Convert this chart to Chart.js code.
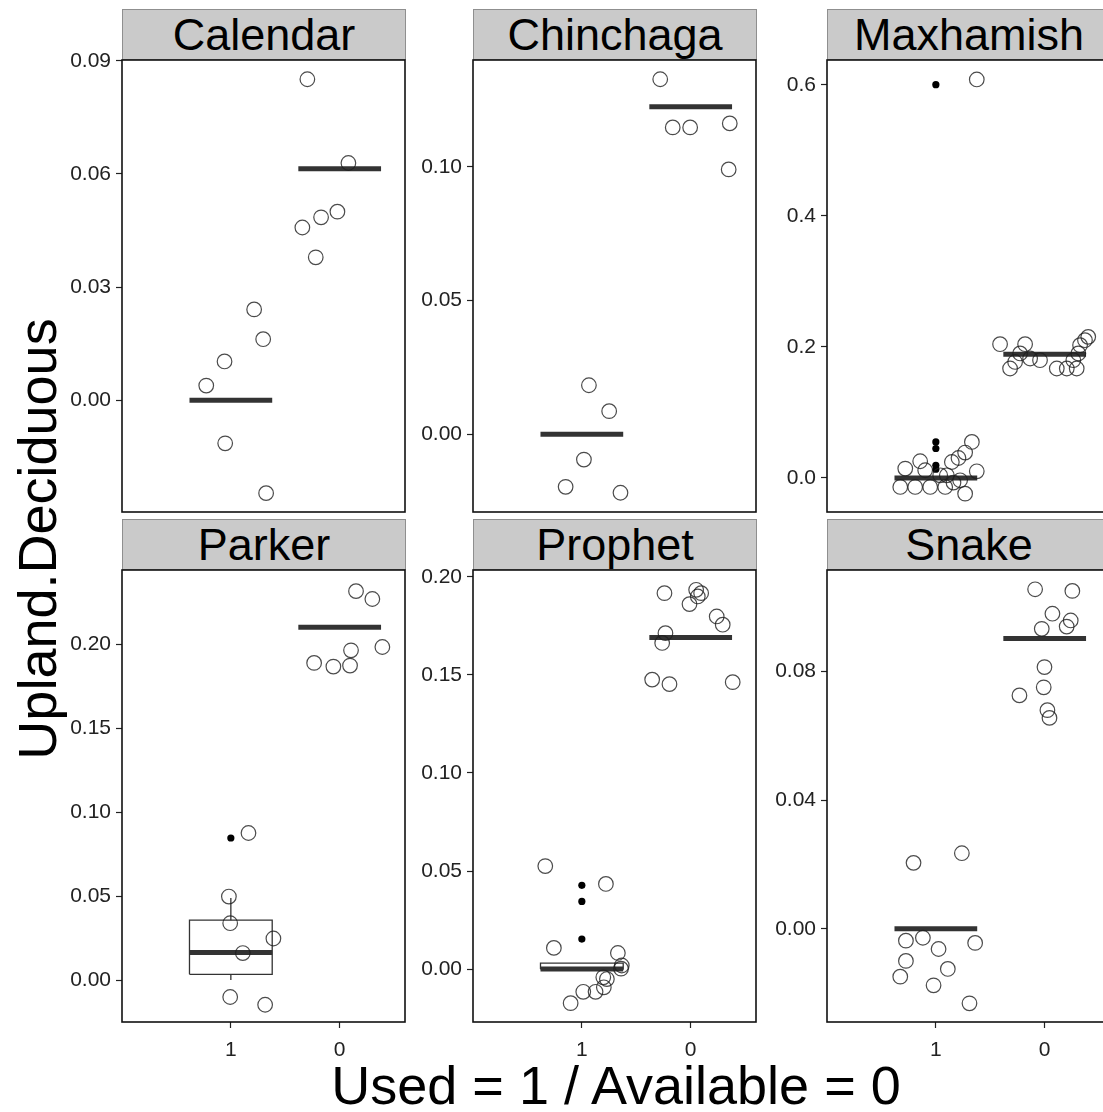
<!DOCTYPE html>
<html lang="en">
<head>
  <meta charset="UTF-8" />
  <title>Upland.Deciduous by herd</title>
  <script src="https://cdn.jsdelivr.net/npm/chart.js"></script>
  <style>
    html, body { margin: 0; padding: 0; background: #fff; overflow: hidden; }
    body { width: 1103px; height: 1112px; position: relative; font-family: "Liberation Sans", Arial, sans-serif; }
    canvas { position: absolute; }
    .strip {
      position: absolute; box-sizing: border-box; background: #cacaca; border: 1px solid #8f8f8f;
      font-size: 45px; line-height: 50px; text-align: center; color: #000;
    }
    .ytitle {
      position: absolute; font-size: 54px; line-height: 54px; white-space: nowrap; color: #000;
      transform: translate(-50%, -50%) rotate(-90deg); left: 37px; top: 539px;
    }
    .xtitle {
      position: absolute; font-size: 54px; line-height: 54px; white-space: nowrap; color: #000;
      left: 616px; top: 1058px; transform: translateX(-50%);
    }
  </style>
</head>
<body>

  <div class="ytitle">Upland.Deciduous</div>
  <div class="xtitle">Used = 1 / Available = 0</div>

  <script>
    // ---- data ----
    const facetNames = ["Calendar", "Chinchaga", "Maxhamish", "Parker", "Prophet", "Snake"];
    const groupLabels = ["1", "0"];

    // jittered observations (x = group position 1 or 2 plus jitter)
    const calendarX = [1.703, 2.080, 1.979, 1.829, 1.657, 1.780, 1.214, 1.297, 0.942, 0.774, 0.948, 1.324];
    const calendarY = [0.0851, 0.0629, 0.0500, 0.0485, 0.0458, 0.0379, 0.0241, 0.0162, 0.0103, 0.0039, -0.0114, -0.0246];

    const chinchagaX = [1.720, 1.835, 1.995, 2.359, 2.349, 1.065, 1.251, 1.019, 0.851, 1.355];
    const chinchagaY = [0.1327, 0.1147, 0.1147, 0.1162, 0.0990, 0.0183, 0.0086, -0.0095, -0.0197, -0.0219];

    const maxhamishX = [1.376, 0.673, 0.810, 0.948, 1.086, 1.162, 1.269, 0.719, 0.856, 0.902, 1.147, 1.208, 1.269, 1.331, 1.376, 1.101, 1.223, 1.040,
                        1.590, 1.820, 1.774, 1.728, 1.682, 1.866, 1.957, 2.111, 2.203, 2.294, 2.309, 2.325, 2.370, 2.400, 2.263];
    const maxhamishY = [0.608, -0.0137, -0.0137, -0.0137, -0.0137, -0.0071, -0.0239, 0.0143, 0.0255, 0.0118, 0.0244, 0.0305, 0.0388, 0.055, 0.0102, 0.0041, -0.0035, 0.0041,
                        0.2041, 0.2041, 0.190, 0.177, 0.167, 0.1823, 0.1797, 0.167, 0.167, 0.167, 0.190, 0.2026, 0.2102, 0.2153, 0.1797];

    const parkerX = [2.150, 2.300, 2.392, 2.104, 2.095, 1.942, 1.765, 1.162, 0.982, 0.994, 1.391, 1.110, 0.994, 1.315];
    const parkerY = [0.2319, 0.2272, 0.1986, 0.1966, 0.1875, 0.1869, 0.1891, 0.0877, 0.0498, 0.0339, 0.0248, 0.0161, -0.0101, -0.0147];

    const prophetX = [1.759, 2.050, 2.096, 2.065, 1.989, 2.239, 2.294, 1.768, 1.738, 1.646, 1.805, 2.386,
                      0.664, 1.221, 0.743, 1.331, 1.367, 1.360, 1.197, 1.230, 1.202, 1.126, 1.013, 0.897];
    const prophetY = [0.1917, 0.1934, 0.1917, 0.1900, 0.1861, 0.1798, 0.1756, 0.1713, 0.1663, 0.1476, 0.1453, 0.1463,
                      0.0525, 0.0434, 0.0108, 0.0082, 0.0018, 0.0002, -0.0042, -0.0051, -0.0093, -0.0116, -0.0116, -0.0174];

    const snakeX = [1.912, 2.254, 2.071, 2.239, 2.202, 1.973, 1.998, 1.991, 1.768, 2.025, 2.044,
                    0.795, 1.239, 0.725, 0.881, 1.025, 1.361, 0.725, 1.110, 0.673, 0.979, 1.309];
    const snakeY = [0.1056, 0.1051, 0.0980, 0.0959, 0.0940, 0.0933, 0.0814, 0.0751, 0.0726, 0.0680, 0.0656,
                    0.0205, 0.0235, -0.0037, -0.0028, -0.0063, -0.0044, -0.0100, -0.0125, -0.0149, -0.0176, -0.0232];

    // boxplot stats per group: [lower whisker, q1, median, q3, upper whisker]
    const calendarBox = [[0, 0, 0, 0, 0], [0.0614, 0.0614, 0.0614, 0.0614, 0.0614]];
    const chinchagaBox = [[0, 0, 0, 0, 0], [0.1224, 0.1224, 0.1224, 0.1224, 0.1224]];
    const maxhamishBox = [[0, 0, 0, 0, 0], [0.1889, 0.1889, 0.1889, 0.1889, 0.1889]];
    const parkerBox = [[0, 0.0034, 0.0165, 0.0357, 0.049], [0.2103, 0.2103, 0.2103, 0.2103, 0.2103]];
    const prophetBox = [[0, 0, 0, 0.003, 0.003], [0.1691, 0.1691, 0.1691, 0.1691, 0.1691]];
    const snakeBox = [[0, 0, 0, 0, 0], [0.0903, 0.0903, 0.0903, 0.0903, 0.0903]];

    // outliers (filled dots) per group
    const calendarOut = [[], []];
    const chinchagaOut = [[], []];
    const maxhamishOut = [[0.600, 0.055, 0.045, 0.0194, 0.0133], []];
    const parkerOut = [[0.0847], []];
    const prophetOut = [[0.0427, 0.0345, 0.0153], []];
    const snakeOut = [[], []];

    // y tick values
    const calendarTicks = [0, 0.03, 0.06, 0.09];
    const chinchagaTicks = [0, 0.05, 0.10];
    const maxhamishTicks = [0, 0.2, 0.4, 0.6];
    const parkerTicks = [0, 0.05, 0.10, 0.15, 0.20];
    const prophetTicks = [0, 0.05, 0.10, 0.15, 0.20];
    const snakeTicks = [0, 0.04, 0.08];

    // ---- layout ----
    const colLeft = [122, 473, 827];
    const rowTop = [60, 570];
    const PLOT_W = 283, PLOT_H = 452;
    const AXIS_W = 72, PAD = 2, PAD_TOP = 16, XAXIS_H = 46;
    const BOX_HALF = 0.38;
    const INK = "#333333";
    const TICK_FONT = { family: "Liberation Sans", size: 21 };

    const panels = [
      { x: calendarX, y: calendarY, box: calendarBox, out: calendarOut, ticks: calendarTicks, min: -0.0296, max: 0.0902, dec: 2 },
      { x: chinchagaX, y: chinchagaY, box: chinchagaBox, out: chinchagaOut, ticks: chinchagaTicks, min: -0.0291, max: 0.1399, dec: 2 },
      { x: maxhamishX, y: maxhamishY, box: maxhamishBox, out: maxhamishOut, ticks: maxhamishTicks, min: -0.0519, max: 0.6377, dec: 1 },
      { x: parkerX, y: parkerY, box: parkerBox, out: parkerOut, ticks: parkerTicks, min: -0.025, max: 0.2445, dec: 2 },
      { x: prophetX, y: prophetY, box: prophetBox, out: prophetOut, ticks: prophetTicks, min: -0.027, max: 0.2035, dec: 2 },
      { x: snakeX, y: snakeY, box: snakeBox, out: snakeOut, ticks: snakeTicks, min: -0.029, max: 0.1116, dec: 2 }
    ];

    const panelBorder = {
      id: "panelBorder",
      afterDatasetsDraw(chart) {
        const { ctx, chartArea: a } = chart;
        ctx.save();
        ctx.strokeStyle = "#111";
        ctx.lineWidth = 1.6;
        ctx.strokeRect(a.left, a.top, a.right - a.left, a.bottom - a.top);
        ctx.restore();
      }
    };

    // no extra room for overhanging tick labels: the plot box is fixed
    function noPad(s) {
      s.paddingLeft = 0; s.paddingRight = 0; s.paddingTop = 0; s.paddingBottom = 0;
    }

    function seg(points, width, order) {
      return {
        data: points, showLine: true, pointRadius: 0, borderColor: INK, borderWidth: width,
        borderCapStyle: "butt", fill: false, order: order, clip: false
      };
    }

    function buildDatasets(p) {
      const ds = [];
      // hollow jittered points on top
      ds.push({
        data: p.x.map((v, k) => ({ x: v, y: p.y[k] })),
        pointRadius: 7.3, pointBorderWidth: 1.2, pointBackgroundColor: "rgba(0,0,0,0)",
        pointBorderColor: "rgba(30,30,30,0.8)", showLine: false, order: 0, clip: false
      });
      p.box.forEach((b, g) => {
        const c = g + 1, l = c - BOX_HALF, r = c + BOX_HALF;
        const [lo, q1, med, q3, hi] = b;
        // outliers
        ds.push({
          data: p.out[g].map(v => ({ x: c, y: v })),
          pointRadius: 3.6, pointBackgroundColor: "#000", pointBorderColor: "#000", pointBorderWidth: 0,
          showLine: false, order: 1, clip: false
        });
        ds.push(seg([{ x: l, y: med }, { x: r, y: med }], 5, 2));
        if (hi > q3) ds.push(seg([{ x: c, y: q3 }, { x: c, y: hi }], 1.3, 3));
        if (lo < q1) ds.push(seg([{ x: c, y: lo }, { x: c, y: q1 }], 1.3, 3));
        if (q3 > q1) ds.push(seg([{ x: l, y: q1 }, { x: r, y: q1 }, { x: r, y: q3 }, { x: l, y: q3 }, { x: l, y: q1 }], 1.3, 4));
      });
      return ds;
    }

    panels.forEach((p, i) => {
      const col = i % 3, row = Math.floor(i / 3);
      const bottomRow = row === 1;
      const left = colLeft[col], top = rowTop[row];

      const strip = document.createElement("div");
      strip.className = "strip";
      strip.textContent = facetNames[i];
      Object.assign(strip.style, { left: left + "px", top: (top - 51) + "px", width: (PLOT_W + 1) + "px", height: "51px" });
      document.body.appendChild(strip);

      const cv = document.createElement("canvas");
      cv.width = AXIS_W + PLOT_W + PAD;
      cv.height = PAD_TOP + PLOT_H + (bottomRow ? XAXIS_H : PAD);
      Object.assign(cv.style, { left: (left - AXIS_W) + "px", top: (top - PAD_TOP) + "px" });
      document.body.appendChild(cv);

      new Chart(cv.getContext("2d"), {
        type: "scatter",
        data: { datasets: buildDatasets(p) },
        options: {
          responsive: false,
          animation: false,
          events: [],
          layout: { autoPadding: false, padding: { top: PAD_TOP, right: PAD, left: 0, bottom: bottomRow ? 0 : PAD } },
          plugins: { legend: { display: false }, tooltip: { enabled: false } },
          scales: {
            x: {
              type: "linear", min: 0, max: 2.6,
              afterBuildTicks: s => { s.ticks = groupLabels.map((_, k) => ({ value: k + 1 })); },
              afterFit: s => { s.height = bottomRow ? XAXIS_H : 0; noPad(s); },
              ticks: {
                display: bottomRow, color: "#222", padding: 10, font: TICK_FONT, maxRotation: 0,
                callback: v => groupLabels[Math.round(v) - 1]
              },
              grid: { drawOnChartArea: false, drawTicks: bottomRow, tickLength: 6, tickColor: "#222", tickWidth: 1.2 },
              border: { display: false }
            },
            y: {
              type: "linear", min: p.min, max: p.max,
              afterBuildTicks: s => { s.ticks = p.ticks.map(v => ({ value: v })); },
              afterFit: s => { s.width = AXIS_W; noPad(s); },
              ticks: {
                color: "#222", padding: 5, font: TICK_FONT,
                callback: v => Number(v).toFixed(p.dec)
              },
              grid: { drawOnChartArea: false, drawTicks: true, tickLength: 6, tickColor: "#222", tickWidth: 1.2 },
              border: { display: false }
            }
          }
        },
        plugins: [panelBorder]
      });
    });
  </script>
</body>
</html>
